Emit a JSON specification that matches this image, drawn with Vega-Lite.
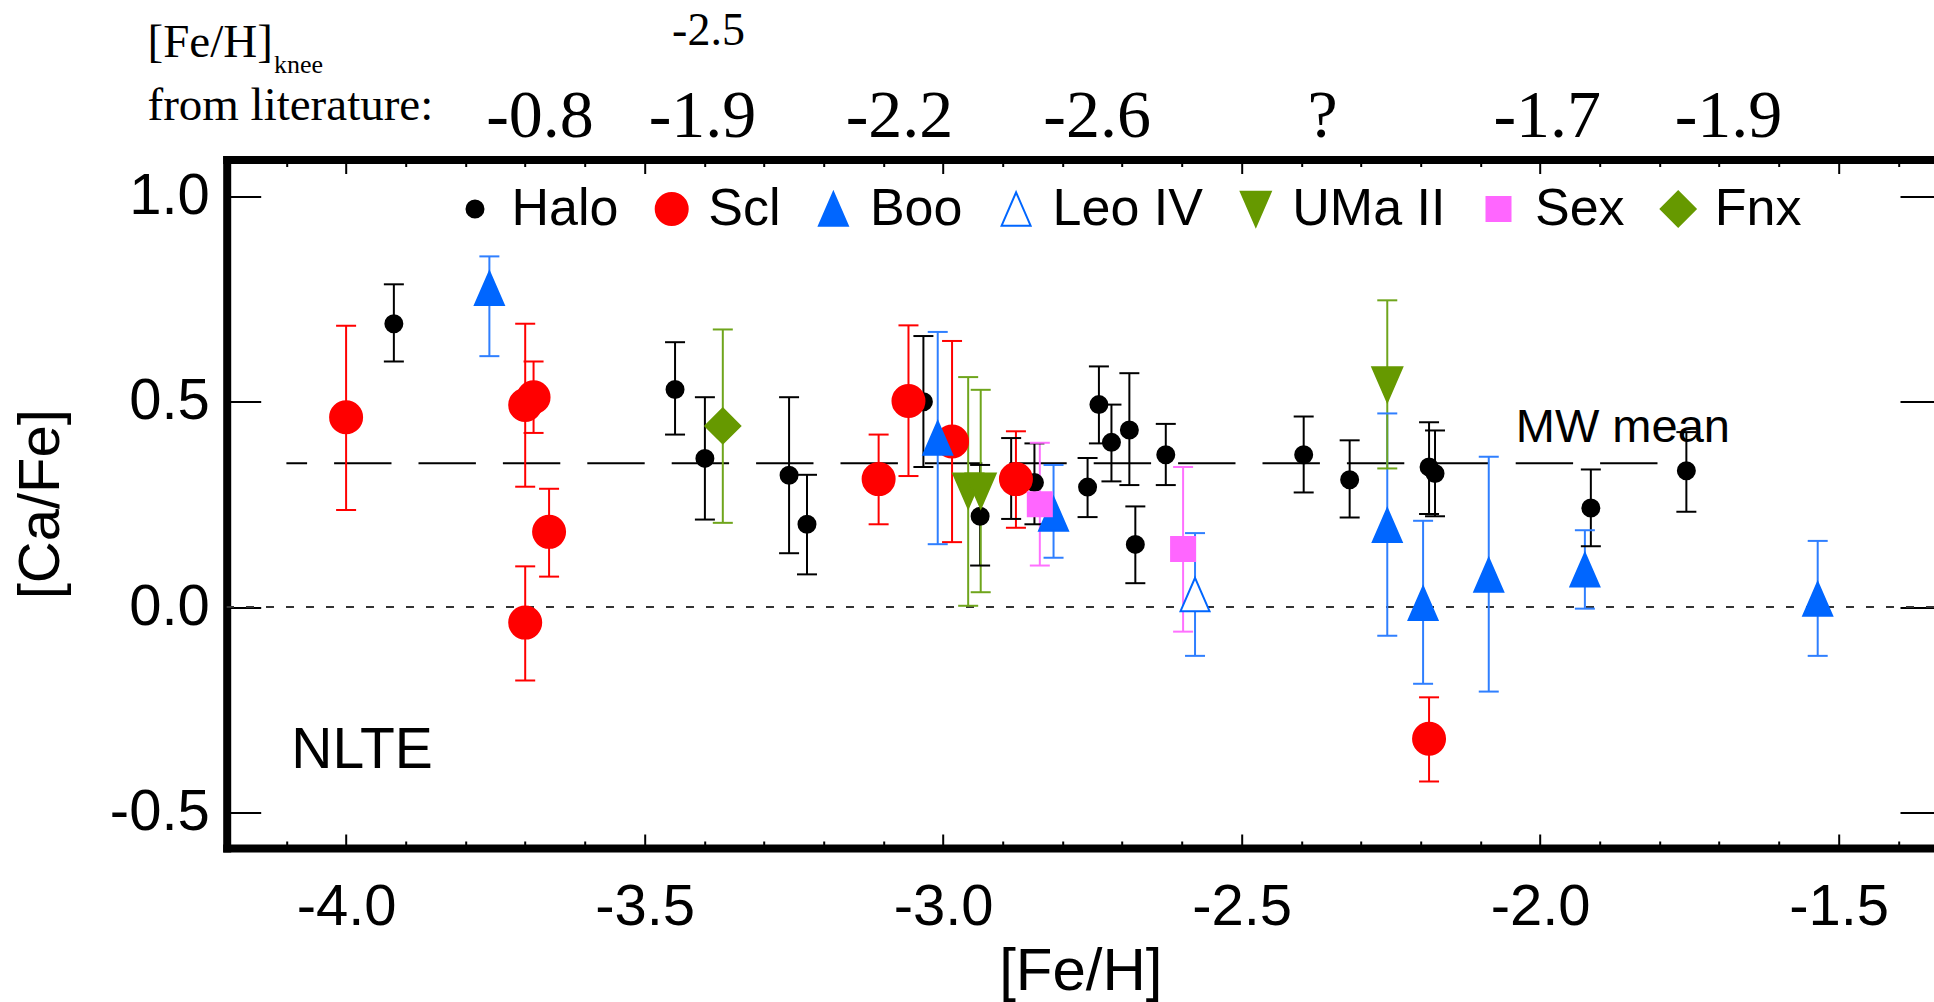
{
  "$schema": "https://vega.github.io/schema/vega-lite/v6.json",
  "width": 1707.3,
  "height": 688.5,
  "autosize": {"type": "none"},
  "padding": {"left": 226.7, "top": 159.5, "right": 0, "bottom": 154},
  "background": "white",
  "config": {"view": {"stroke": null}, "font": "Liberation Sans"},
  "datasets": {
    "stars": [
      {"g": "Halo", "fe": -3.92, "ca": 0.69, "lo": 0.598, "hi": 0.786},
      {"g": "Halo", "fe": -3.449, "ca": 0.53, "lo": 0.42, "hi": 0.645},
      {"g": "Halo", "fe": -3.399, "ca": 0.362, "lo": 0.213, "hi": 0.511},
      {"g": "Halo", "fe": -3.258, "ca": 0.321, "lo": 0.131, "hi": 0.511},
      {"g": "Halo", "fe": -3.228, "ca": 0.2015, "lo": 0.0795, "hi": 0.322},
      {"g": "Halo", "fe": -3.033, "ca": 0.5, "lo": 0.341, "hi": 0.66},
      {"g": "Halo", "fe": -2.938, "ca": 0.221, "lo": 0.101, "hi": 0.346},
      {"g": "Halo", "fe": -2.886, "ca": 0.313, "lo": 0.2145, "hi": 0.4115},
      {"g": "Halo", "fe": -2.847, "ca": 0.303, "lo": 0.2015, "hi": 0.3985},
      {"g": "Halo", "fe": -2.758, "ca": 0.292, "lo": 0.219, "hi": 0.363},
      {"g": "Halo", "fe": -2.739, "ca": 0.493, "lo": 0.3985, "hi": 0.586},
      {"g": "Halo", "fe": -2.718, "ca": 0.401, "lo": 0.306, "hi": 0.493},
      {"g": "Halo", "fe": -2.688, "ca": 0.431, "lo": 0.297, "hi": 0.5695},
      {"g": "Halo", "fe": -2.678, "ca": 0.1525, "lo": 0.058, "hi": 0.245},
      {"g": "Halo", "fe": -2.627, "ca": 0.371, "lo": 0.297, "hi": 0.446},
      {"g": "Halo", "fe": -2.396, "ca": 0.371, "lo": 0.279, "hi": 0.464},
      {"g": "Halo", "fe": -2.319, "ca": 0.31, "lo": 0.218, "hi": 0.406},
      {"g": "Halo", "fe": -2.186, "ca": 0.341, "lo": 0.2265, "hi": 0.45},
      {"g": "Halo", "fe": -2.176, "ca": 0.325, "lo": 0.221, "hi": 0.43},
      {"g": "Halo", "fe": -1.915, "ca": 0.241, "lo": 0.148, "hi": 0.335},
      {"g": "Halo", "fe": -1.755, "ca": 0.332, "lo": 0.232, "hi": 0.426},
      {"g": "Scl", "fe": -4.0, "ca": 0.462, "lo": 0.236, "hi": 0.685},
      {"g": "Scl", "fe": -3.7, "ca": 0.492, "lo": 0.293, "hi": 0.69},
      {"g": "Scl", "fe": -3.686, "ca": 0.511, "lo": 0.424, "hi": 0.598},
      {"g": "Scl", "fe": -3.66, "ca": 0.183, "lo": 0.074, "hi": 0.288},
      {"g": "Scl", "fe": -3.7, "ca": -0.038, "lo": -0.179, "hi": 0.099},
      {"g": "Scl", "fe": -3.108, "ca": 0.3115, "lo": 0.2015, "hi": 0.42},
      {"g": "Scl", "fe": -3.058, "ca": 0.502, "lo": 0.319, "hi": 0.686},
      {"g": "Scl", "fe": -2.985, "ca": 0.403, "lo": 0.158, "hi": 0.648},
      {"g": "Scl", "fe": -2.878, "ca": 0.3115, "lo": 0.193, "hi": 0.428},
      {"g": "Scl", "fe": -2.186, "ca": -0.321, "lo": -0.425, "hi": -0.22},
      {"g": "Boo", "fe": -3.76, "ca": 0.776, "lo": 0.611, "hi": 0.854},
      {"g": "Boo", "fe": -3.009, "ca": 0.4115, "lo": 0.153, "hi": 0.67},
      {"g": "Boo", "fe": -2.815, "ca": 0.2265, "lo": 0.12, "hi": 0.346},
      {"g": "Boo", "fe": -2.256, "ca": 0.199, "lo": -0.07, "hi": 0.4715},
      {"g": "Boo", "fe": -2.196, "ca": 0.009, "lo": -0.187, "hi": 0.21},
      {"g": "Boo", "fe": -2.086, "ca": 0.078, "lo": -0.206, "hi": 0.366},
      {"g": "Boo", "fe": -1.925, "ca": 0.0904, "lo": -0.004, "hi": 0.187},
      {"g": "Boo", "fe": -1.535, "ca": 0.0195, "lo": -0.119, "hi": 0.161},
      {"g": "Leo IV", "fe": -2.578, "ca": 0.0305, "lo": -0.119, "hi": 0.18},
      {"g": "UMa II", "fe": -2.958, "ca": 0.283, "lo": 0.003, "hi": 0.56},
      {"g": "UMa II", "fe": -2.937, "ca": 0.283, "lo": 0.036, "hi": 0.529},
      {"g": "UMa II", "fe": -2.256, "ca": 0.542, "lo": 0.3375, "hi": 0.747},
      {"g": "Sex", "fe": -2.838, "ca": 0.2505, "lo": 0.101, "hi": 0.4},
      {"g": "Sex", "fe": -2.598, "ca": 0.1415, "lo": -0.06, "hi": 0.341},
      {"g": "Fnx", "fe": -3.369, "ca": 0.441, "lo": 0.205, "hi": 0.676}
    ]
  },
  "layer": [
    {
      "data": {"values": [{}]},
      "mark": {"type": "rule", "stroke": "#333333", "strokeWidth": 2, "strokeDash": [8, 12]},
      "encoding": {
        "y": {"datum": 0, "type": "quantitative", "scale": {"domain": [-0.587, 1.09], "nice": false, "zero": false}, "axis": null}
      }
    },
    {
      "data": {"values": [{}]},
      "mark": {"type": "rule", "stroke": "black", "strokeWidth": 2, "strokeDash": [57.4, 27], "strokeDashOffset": 36.7},
      "encoding": {
        "x": {"datum": -4.1, "type": "quantitative", "scale": {"domain": [-4.2, -1.3402], "nice": false, "zero": false}, "axis": null},
        "x2": {"datum": -1.8},
        "y": {"datum": 0.35, "type": "quantitative", "scale": {"domain": [-0.587, 1.09], "nice": false, "zero": false}, "axis": null}
      }
    },
    {
      "data": {"name": "stars"},
      "mark": {"type": "rule", "strokeWidth": 2, "opacity": 1},
      "encoding": {
        "x": {"field": "fe", "type": "quantitative", "scale": {"domain": [-4.2, -1.3402], "nice": false, "zero": false},
          "axis": {"orient": "top", "values": [-4.1,-4,-3.9,-3.8,-3.7,-3.6,-3.5,-3.4,-3.3,-3.2,-3.1,-3,-2.9,-2.8,-2.7,-2.6,-2.5,-2.4,-2.3,-2.2,-2.1,-2,-1.9,-1.8,-1.7,-1.6,-1.5,-1.4],
            "labels": false, "grid": false, "title": null,
            "tickSize": {"condition": {"test": "abs(datum.value*2 - round(datum.value*2)) < 0.001", "value": -14}, "value": -7},
            "tickColor": "black", "tickWidth": 2,
            "domain": true, "domainColor": "black", "domainWidth": 8, "domainCap": "square"}},
        "y": {"field": "lo", "type": "quantitative", "scale": {"domain": [-0.587, 1.09], "nice": false, "zero": false},
          "axis": {"orient": "right", "values": [-0.5, 0, 0.5, 1], "labels": false, "grid": false, "title": null,
            "tickSize": -34, "tickColor": "black", "tickWidth": 2, "domain": false}},
        "y2": {"field": "hi"},
        "color": {"field": "g", "type": "nominal", "legend": null,
          "scale": {"domain": ["Fnx","Sex","UMa II","Leo IV","Boo","Scl","Halo"], "range": ["#6fa51c","#ff70ff","#6fa51c","#2f7fff","#2f7fff","#ff0000","#000000"]}}
      }
    },
    {
      "data": {"name": "stars"},
      "mark": {"type": "tick", "orient": "horizontal", "size": 20, "thickness": 2, "opacity": 1},
      "encoding": {
        "x": {"field": "fe", "type": "quantitative", "scale": {"domain": [-4.2, -1.3402], "nice": false, "zero": false}, "axis": null},
        "y": {"field": "lo", "type": "quantitative", "scale": {"domain": [-0.587, 1.09], "nice": false, "zero": false}, "axis": null},
        "color": {"field": "g", "type": "nominal", "legend": null,
          "scale": {"domain": ["Fnx","Sex","UMa II","Leo IV","Boo","Scl","Halo"], "range": ["#6fa51c","#ff70ff","#6fa51c","#2f7fff","#2f7fff","#ff0000","#000000"]}}
      }
    },
    {
      "data": {"name": "stars"},
      "mark": {"type": "tick", "orient": "horizontal", "size": 20, "thickness": 2, "opacity": 1},
      "encoding": {
        "x": {"field": "fe", "type": "quantitative", "scale": {"domain": [-4.2, -1.3402], "nice": false, "zero": false}, "axis": null},
        "y": {"field": "hi", "type": "quantitative", "scale": {"domain": [-0.587, 1.09], "nice": false, "zero": false}, "axis": null},
        "color": {"field": "g", "type": "nominal", "legend": null,
          "scale": {"domain": ["Fnx","Sex","UMa II","Leo IV","Boo","Scl","Halo"], "range": ["#6fa51c","#ff70ff","#6fa51c","#2f7fff","#2f7fff","#ff0000","#000000"]}}
      }
    },
    {
      "data": {"name": "stars"},
      "mark": {"type": "point", "filled": true, "opacity": 1, "strokeWidth": 2},
      "encoding": {
        "x": {"field": "fe", "type": "quantitative", "scale": {"domain": [-4.2, -1.3402], "nice": false, "zero": false},
          "axis": {"orient": "bottom", "values": [-4.1,-4,-3.9,-3.8,-3.7,-3.6,-3.5,-3.4,-3.3,-3.2,-3.1,-3,-2.9,-2.8,-2.7,-2.6,-2.5,-2.4,-2.3,-2.2,-2.1,-2,-1.9,-1.8,-1.7,-1.6,-1.5,-1.4],
            "labelExpr": "abs(datum.value*2 - round(datum.value*2)) < 0.001 ? (datum.value < 0 ? '-' : '') + format(abs(datum.value), '.1f') : ''",
            "tickSize": {"condition": {"test": "abs(datum.value*2 - round(datum.value*2)) < 0.001", "value": -14}, "value": -7},
            "tickColor": "black", "tickWidth": 2, "grid": false,
            "domain": true, "domainColor": "black", "domainWidth": 8, "domainCap": "square",
            "labelFont": "Liberation Sans", "labelFontSize": 58, "labelColor": "black", "labelPadding": 44.7, "labelBaseline": "top",
            "labelFlush": false, "labelOverlap": false, "labelBound": false,
            "title": "[Fe/H]", "titleFont": "Liberation Sans", "titleFontSize": 60, "titleFontWeight": "normal", "titleColor": "black",
            "titleBaseline": "top", "titleAlign": "center", "titleY": 94, "titleX": 853.65}},
        "y": {"field": "ca", "type": "quantitative", "scale": {"domain": [-0.587, 1.09], "nice": false, "zero": false},
          "axis": {"orient": "left", "values": [-0.5, 0, 0.5, 1],
            "labelExpr": "(datum.value < 0 ? '-' : '') + format(abs(datum.value), '.1f')",
            "tickSize": -34, "tickColor": "black", "tickWidth": 2, "grid": false,
            "domain": true, "domainColor": "black", "domainWidth": 8, "domainCap": "square",
            "labelFont": "Liberation Sans", "labelFontSize": 58, "labelColor": "black", "labelPadding": 51.4, "labelBaseline": "middle",
            "labelFlush": false, "labelOverlap": false, "labelBound": false,
            "title": "[Ca/Fe]", "titleFont": "Liberation Sans", "titleFontSize": 58, "titleFontWeight": "normal", "titleColor": "black",
            "titleAngle": -90, "titleBaseline": "middle", "titleAlign": "center", "titleX": -185, "titleY": 344.25}},
        "fill": {"field": "g", "type": "nominal",
          "scale": {"domain": ["Halo","Scl","Boo","Leo IV","UMa II","Sex","Fnx"], "range": ["#000000","#ff0000","#0066ff","#ffffff","#669900","#ff66ff","#669900"]},
          "legend": {"orient": "none", "legendX": 222.3, "legendY": 23.5, "direction": "horizontal", "title": null, "padding": 0,
            "labelFont": "Liberation Sans", "labelFontSize": 52, "labelColor": "black", "labelOffset": 10.5, "columnPadding": 26.7,
            "symbolStrokeWidth": 2, "symbolOpacity": 1, "labelLimit": 500, "labelBaseline": "middle"}},
        "stroke": {"field": "g", "type": "nominal",
          "scale": {"domain": ["Halo","Scl","Boo","Leo IV","UMa II","Sex","Fnx"], "range": ["#000000","#ff0000","#0066ff","#0066ff","#669900","#ff66ff","#669900"]},
          "legend": {"orient": "none", "legendX": 222.3, "legendY": 23.5, "direction": "horizontal", "title": null, "padding": 0,
            "labelFont": "Liberation Sans", "labelFontSize": 52, "labelColor": "black", "labelOffset": 10.5, "columnPadding": 26.7,
            "symbolStrokeWidth": 2, "symbolOpacity": 1, "labelLimit": 500, "labelBaseline": "middle"}},
        "shape": {"field": "g", "type": "nominal",
          "scale": {"domain": ["Halo","Scl","Boo","Leo IV","UMa II","Sex","Fnx"], "range": ["circle","circle","M0,-1.15L1,1.15L-1,1.15Z","M0,-1.15L1,1.15L-1,1.15Z","M0,1.15L1,-1.15L-1,-1.15Z","square","diamond"]},
          "legend": {"orient": "none", "legendX": 222.3, "legendY": 23.5, "direction": "horizontal", "title": null, "padding": 0,
            "labelFont": "Liberation Sans", "labelFontSize": 52, "labelColor": "black", "labelOffset": 10.5, "columnPadding": 26.7,
            "symbolStrokeWidth": 2, "symbolOpacity": 1, "labelLimit": 500, "labelBaseline": "middle"}},
        "size": {"field": "g", "type": "nominal",
          "scale": {"type": "ordinal", "domain": ["Halo","Scl","Boo","Leo IV","UMa II","Sex","Fnx"], "range": [289, 1024, 841, 841, 900, 576, 1225]},
          "legend": {"orient": "none", "legendX": 222.3, "legendY": 23.5, "direction": "horizontal", "title": null, "padding": 0,
            "labelFont": "Liberation Sans", "labelFontSize": 52, "labelColor": "black", "labelOffset": 10.5, "columnPadding": 26.7,
            "symbolStrokeWidth": 2, "symbolOpacity": 1, "labelLimit": 500, "labelBaseline": "middle"}}
      }
    },
    {
      "data": {"values": [{"x": -4.0918, "y": -0.393, "t": "NLTE"}]},
      "mark": {"type": "text", "font": "Liberation Sans", "fontSize": 57, "align": "left", "baseline": "alphabetic", "color": "black"},
      "encoding": {
        "x": {"field": "x", "type": "quantitative", "scale": {"domain": [-4.2, -1.3402], "nice": false, "zero": false}, "axis": null},
        "y": {"field": "y", "type": "quantitative", "scale": {"domain": [-0.587, 1.09], "nice": false, "zero": false}, "axis": null},
        "text": {"field": "t"}
      }
    },
    {
      "data": {"values": [{"x": -2.0407, "y": 0.4008, "t": "MW mean"}]},
      "mark": {"type": "text", "font": "Liberation Sans", "fontSize": 47, "align": "left", "baseline": "alphabetic", "color": "black"},
      "encoding": {
        "x": {"field": "x", "type": "quantitative", "scale": {"domain": [-4.2, -1.3402], "nice": false, "zero": false}, "axis": null},
        "y": {"field": "y", "type": "quantitative", "scale": {"domain": [-0.587, 1.09], "nice": false, "zero": false}, "axis": null},
        "text": {"field": "t"}
      }
    },
    {
      "data": {"values": [
        {"x": -3.6752, "y": 1.1448, "t": "-0.8"},
        {"x": -3.403, "y": 1.1448, "t": "-1.9"},
        {"x": -3.073, "y": 1.1448, "t": "-2.2"},
        {"x": -2.742, "y": 1.1448, "t": "-2.6"},
        {"x": -2.3645, "y": 1.1448, "t": "?"},
        {"x": -1.988, "y": 1.1448, "t": "-1.7"},
        {"x": -1.6844, "y": 1.1448, "t": "-1.9"}
      ]},
      "mark": {"type": "text", "font": "Liberation Serif", "fontSize": 68, "align": "center", "baseline": "alphabetic", "color": "black"},
      "encoding": {
        "x": {"field": "x", "type": "quantitative", "scale": {"domain": [-4.2, -1.3402], "nice": false, "zero": false}, "axis": null},
        "y": {"field": "y", "type": "quantitative", "scale": {"domain": [-0.587, 1.09], "nice": false, "zero": false}, "axis": null},
        "text": {"field": "t"}
      }
    },
    {
      "data": {"values": [{"x": -3.393, "y": 1.369, "t": "-2.5"}]},
      "mark": {"type": "text", "font": "Liberation Serif", "fontSize": 46, "align": "center", "baseline": "alphabetic", "color": "black"},
      "encoding": {
        "x": {"field": "x", "type": "quantitative", "scale": {"domain": [-4.2, -1.3402], "nice": false, "zero": false}, "axis": null},
        "y": {"field": "y", "type": "quantitative", "scale": {"domain": [-0.587, 1.09], "nice": false, "zero": false}, "axis": null},
        "text": {"field": "t"}
      }
    },
    {
      "data": {"values": [
        {"x": -4.3327, "y": 1.3397, "t": "[Fe/H]"},
        {"x": -4.3327, "y": 1.1862, "t": "from literature:"}
      ]},
      "mark": {"type": "text", "font": "Liberation Serif", "fontSize": 47, "align": "left", "baseline": "alphabetic", "color": "black"},
      "encoding": {
        "x": {"field": "x", "type": "quantitative", "scale": {"domain": [-4.2, -1.3402], "nice": false, "zero": false}, "axis": null},
        "y": {"field": "y", "type": "quantitative", "scale": {"domain": [-0.587, 1.09], "nice": false, "zero": false}, "axis": null},
        "text": {"field": "t"}
      }
    },
    {
      "data": {"values": [{"x": -4.1208, "y": 1.3014, "t": "knee"}]},
      "mark": {"type": "text", "font": "Liberation Serif", "fontSize": 26, "align": "left", "baseline": "alphabetic", "color": "black"},
      "encoding": {
        "x": {"field": "x", "type": "quantitative", "scale": {"domain": [-4.2, -1.3402], "nice": false, "zero": false}, "axis": null},
        "y": {"field": "y", "type": "quantitative", "scale": {"domain": [-0.587, 1.09], "nice": false, "zero": false}, "axis": null},
        "text": {"field": "t"}
      }
    }
  ],
  "resolve": {"axis": {"x": "independent", "y": "independent"}}
}
